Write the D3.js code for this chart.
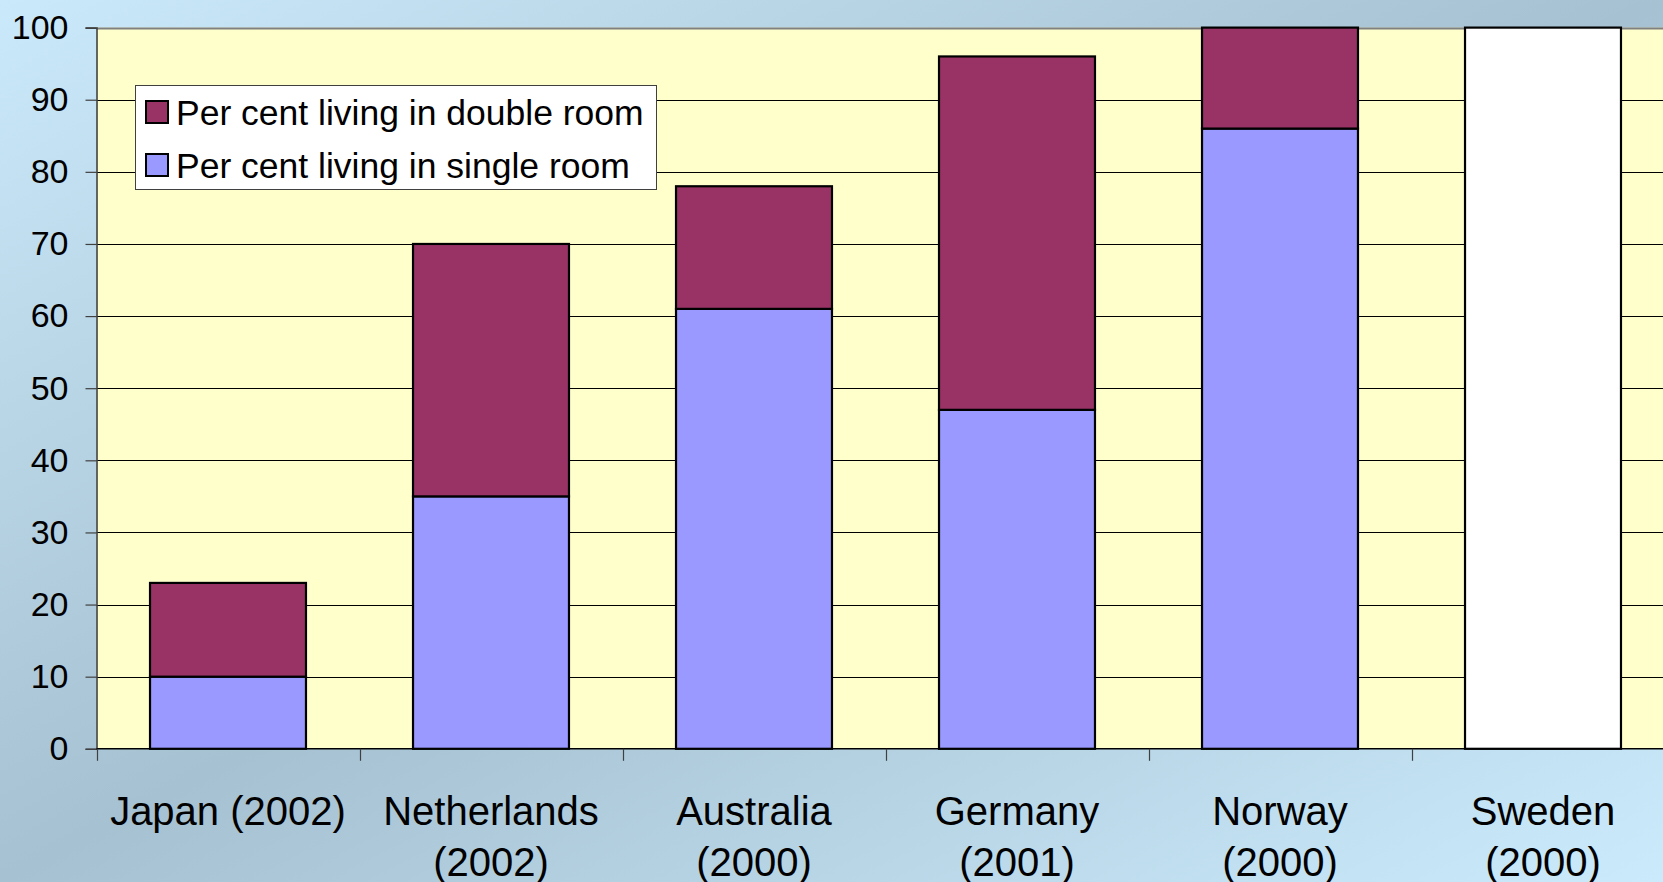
<!DOCTYPE html>
<html>
<head>
<meta charset="utf-8">
<script src="https://cdn.jsdelivr.net/npm/d3@7"></script>
<style>
    html, body { margin: 0; padding: 0; overflow: hidden; }
    svg { display: block; font-family: "Liberation Sans", Arial, sans-serif; }
</style>
</head>
<body>
<svg id="chart"></svg>
<script>
// categories, one entry per line of the tick label
var categories = ['Japan (2002)', 'Netherlands (2002)', 'Australia (2000)', 'Germany (2001)', 'Norway (2000)', 'Sweden (2000)'];
var categoryLines = [['Japan (2002)'], ['Netherlands', '(2002)'], ['Australia', '(2000)'], ['Germany', '(2001)'], ['Norway', '(2000)'], ['Sweden', '(2000)']];

// series values (per cent)
var singleRoom = [10, 35, 61, 47, 86, 100];
var doubleRoom = [13, 35, 17, 49, 14, 0];

var seriesNames = ['Per cent living in double room', 'Per cent living in single room'];
var yTicks = [0, 10, 20, 30, 40, 50, 60, 70, 80, 90, 100];

var input = {'width': 1663, 'height': 882},
    canvas = setUpSvgCanvas(input);

drawChart(input, canvas);

function drawChart(input, canvas) {
    var svg = canvas.svg,
        left = canvas.left,
        top = canvas.top,
        bottom = canvas.bottom,
        step = canvas.step;

    var colors = setUpColors();

    // x: one band per country, the plot runs off the right edge
    var x = d3.scaleBand()
        .domain(categories)
        .range([left, left + step * categories.length])
        .padding(0);

    var y = d3.scaleLinear()
        .domain([0, 100])
        .range([bottom, top]);

    var barWidth = x.bandwidth() * 0.593;

    // plot area
    svg.append('rect')
        .attr('x', left)
        .attr('y', top)
        .attr('width', x.range()[1] - left)
        .attr('height', bottom - top)
        .attr('fill', '#ffffcc');

    // gridlines
    svg.append('g')
        .selectAll('line')
        .data(yTicks.filter(function(d) { return d > 0; }))
        .enter().append('line')
        .attr('x1', left)
        .attr('x2', x.range()[1])
        .attr('y1', function(d) { return Math.round(y(d)) + 0.5; })
        .attr('y2', function(d) { return Math.round(y(d)) + 0.5; })
        .attr('stroke', function(d) { return d === 100 ? '#808080' : '#000'; })
        .attr('stroke-width', function(d) { return d === 100 ? 2 : 1; });

    // stacked data
    var blockData = [];
    categories.forEach(function(c, i) {
        blockData.push({x: c, y0: 0, y1: singleRoom[i], series: 'single'});
        if (doubleRoom[i] > 0) {
            blockData.push({x: c, y0: singleRoom[i], y1: singleRoom[i] + doubleRoom[i], series: 'double'});
        }
    });

    svg.append('g')
        .selectAll('rect')
        .data(blockData)
        .enter().append('rect')
        .attr('x', function(d) { return x(d.x) + (x.bandwidth() - barWidth) / 2; })
        .attr('y', function(d) { return y(d.y1); })
        .attr('width', barWidth)
        .attr('height', function(d) { return y(d.y0) - y(d.y1); })
        .attr('fill', function(d) {
            // the Sweden bar is drawn plain white in the original
            if (d.x === 'Sweden (2000)') return '#ffffff';
            return colors[d.series];
        })
        .attr('stroke', '#000')
        .attr('stroke-width', 2.2);

    // y axis
    var axisY = d3.axisLeft(y)
        .tickValues(yTicks)
        .tickSize(11)
        .tickPadding(17);

    var gy = svg.append('g')
        .attr('class', 'axisY')
        .attr('transform', 'translate(' + left + ',0)')
        .call(axisY);
    gy.select('.domain').attr('stroke', '#404040').attr('stroke-width', 1.6);
    gy.selectAll('.tick line').attr('stroke', '#404040').attr('stroke-width', 1.2);
    gy.selectAll('.tick text')
        .attr('font-size', 34)
        .attr('font-family', '"Liberation Sans", Arial, sans-serif')
        .attr('fill', '#000');

    // x axis line and ticks at band edges
    svg.append('line')
        .attr('x1', left)
        .attr('x2', x.range()[1])
        .attr('y1', bottom)
        .attr('y2', bottom)
        .attr('stroke', '#000')
        .attr('stroke-width', 1.6);

    var edges = categories.map(function(c) { return x(c); }).concat([x.range()[1]]);
    svg.append('g')
        .selectAll('line')
        .data(edges)
        .enter().append('line')
        .attr('x1', function(d) { return Math.round(d) + 0.5; })
        .attr('x2', function(d) { return Math.round(d) + 0.5; })
        .attr('y1', bottom)
        .attr('y2', bottom + 12)
        .attr('stroke', '#404040')
        .attr('stroke-width', 1.2);

    var labels = svg.append('g')
        .selectAll('text')
        .data(categories)
        .enter().append('text')
        .attr('x', function(d) { return x(d) + x.bandwidth() / 2; })
        .attr('y', bottom + 76)
        .attr('text-anchor', 'middle')
        .attr('font-size', 40)
        .attr('fill', '#000');

    labels.each(function(d, i) {
        var t = d3.select(this);
        categoryLines[i].forEach(function(line, j) {
            t.append('tspan')
                .attr('x', x(d) + x.bandwidth() / 2)
                .attr('dy', j === 0 ? 0 : 51)
                .text(line);
        });
    });

    drawLegend(svg, colors);
}

function drawLegend(svg, colors) {
    var lx = 135, ly = 85, lw = 521, lh = 104;
    var legend = svg.append('g').attr('class', 'legend');

    legend.append('rect')
        .attr('x', lx + 0.5)
        .attr('y', ly + 0.5)
        .attr('width', lw)
        .attr('height', lh)
        .attr('fill', '#fff')
        .attr('stroke', '#404040')
        .attr('stroke-width', 1);

    var keys = ['double', 'single'];
    var item = legend.selectAll('.item')
        .data(seriesNames)
        .enter().append('g')
        .attr('class', 'item')
        .attr('transform', function(d, i) { return 'translate(' + (lx + 11) + ',' + (ly + 27 + i * 53) + ')'; });

    item.append('rect')
        .attr('x', 0)
        .attr('y', -11)
        .attr('width', 22)
        .attr('height', 22)
        .attr('fill', function(d, i) { return colors[keys[i]]; })
        .attr('stroke', '#000')
        .attr('stroke-width', 2);

    item.append('text')
        .attr('x', 30)
        .attr('y', 0)
        .attr('dy', '0.36em')
        .attr('font-size', 35.5)
        .attr('fill', '#000')
        .text(function(d) { return d; });
}

function setUpSvgCanvas(input) {
    var svg = d3.select('#chart')
        .attr('width', input.width)
        .attr('height', input.height);

    // background: diagonal light / grey-blue / light gradient
    var defs = svg.append('defs');
    var grad = defs.append('linearGradient')
        .attr('id', 'bg')
        .attr('x1', 0).attr('y1', 0)
        .attr('x2', 1).attr('y2', 1);
    grad.append('stop').attr('offset', '0%').attr('stop-color', '#cae9fa');
    grad.append('stop').attr('offset', '50%').attr('stop-color', '#a6c1d1');
    grad.append('stop').attr('offset', '100%').attr('stop-color', '#cbebfc');

    svg.append('rect')
        .attr('width', input.width)
        .attr('height', input.height)
        .attr('fill', 'url(#bg)');

    return {
        svg: svg,
        left: 96.5,
        top: 27.6,
        bottom: 748.8,
        step: 263
    };
}

function setUpColors() {
    return {double: '#993366', single: '#9999ff'};
}
</script>
</body>
</html>
